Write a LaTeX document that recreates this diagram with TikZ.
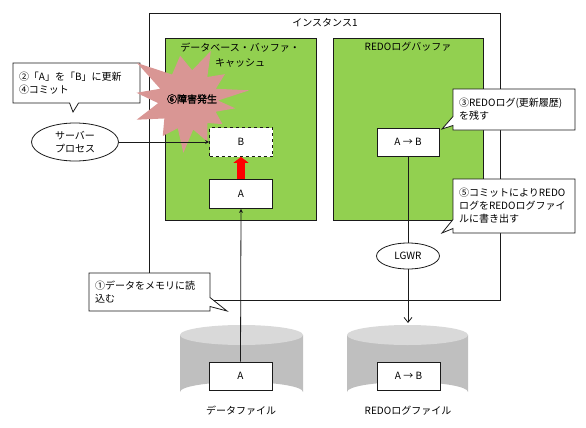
\documentclass[tikz,border=0pt]{standalone}
\usepackage{fontspec}
\setmainfont{Noto Sans CJK JP}
\newfontfamily\burstfont{Noto Sans CJK JP}[FakeBold=2]
\usetikzlibrary{shapes.geometric, shapes.callouts, arrows.meta, calc}
\definecolor{oragreen}{HTML}{92D050}
\definecolor{orapink}{HTML}{D99694}
\definecolor{oradiskbody}{HTML}{BFBFBF}
\definecolor{oradisktop}{HTML}{D9D9D9}
\definecolor{oraline}{HTML}{1A1A1A}

\begin{document}
\begin{tikzpicture}[
  x=1pt, y=-1pt,
  every node/.style={font=\fontsize{10}{13}\selectfont, text=black},
  frame/.style={draw=oraline, line width=0.8pt, inner sep=0pt},
  buffer/.style={frame, fill=oragreen, minimum width=151pt, minimum height=182pt},
  blk/.style={frame, fill=white, minimum width=63pt, minimum height=29pt},
  proc/.style={ellipse, frame, fill=white, align=center},
  note/.style={rectangle callout, frame, fill=white, align=left, inner xsep=6pt, inner ysep=0pt, callout pointer width=9pt},
  arr/.style={-{Stealth[length=4pt,width=4pt]}, line width=0.8pt, oraline},
  link/.style={line width=0.8pt, oraline}
]
\useasboundingbox (0,0) rectangle (586,428);

% instance and buffers
\node[frame, minimum width=351pt, minimum height=287pt] (inst) at (324.5,156.5) {};
\node (insttitle) at (325,23) {インスタンス1};
\node[buffer] (dbbuf) at (240.5,129) {};
\node[buffer, minimum width=150pt] (redobuf) at (408,129) {};

\node[blk, dashed] (memB) at (241,142) {B};
\node[blk] (memA) at (241,194) {A};
\node[blk, minimum width=62pt, minimum height=28pt] (redoAB) at (408,142) {A → B};

\node[proc, minimum width=87pt, minimum height=38pt] (server) at (75,142) {サーバー\\プロセス};
\node[proc, minimum width=63pt, minimum height=26pt] (lgwr) at (408,256) {LGWR};

% files
\fill[oradiskbody] (180,335) -- (180,392) arc[start angle=180, end angle=360, x radius=61.5, y radius=10] -- (303,335) -- cycle;
\fill[oradisktop] (241.5,335) ellipse[x radius=61.5, y radius=10];
\fill[oradiskbody] (347,335) -- (347,392) arc[start angle=180, end angle=360, x radius=60.5, y radius=10] -- (468,335) -- cycle;
\fill[oradisktop] (407.5,335) ellipse[x radius=60.5, y radius=10];
\coordinate (rftop) at (408,323);

\node[blk, minimum height=28pt] (dfA) at (240.5,376) {A};
\node[blk, minimum height=28pt] (rfAB) at (408.5,376) {A → B};
\node (dflbl) at (241,411) {データファイル};
\node (rflbl) at (408,411) {REDOログファイル};

% flows
\draw[-{Triangle[length=6pt,width=15pt]}, line width=8pt, red] (memA.north) -- (memB.south);
\draw[arr] (dfA.north) -- (memA.south);
\draw[link] (redoAB.south) -- (lgwr.north);
\draw[link, -{Straight Barb[length=5pt,width=8pt]}] (lgwr.south) -- (rftop);

% notes
\node[note, text width=115pt, minimum height=40pt, callout absolute pointer={(73,112)}] (note24) at (76.5,83) {②「A」を「B」に更新\\④コミット};
\node[note, text width=110pt, minimum height=41pt, callout absolute pointer={(442,129)}] (note3) at (514,109.5) {③REDOログ(更新履歴)\\を残す};
\node[note, text width=110pt, minimum height=54pt, callout absolute pointer={(442,233)}] (note5) at (514,206) {⑤コミットによりREDO\\ログをREDOログファイ\\ルに書き出す};
\node[note, text width=109pt, minimum height=38pt, callout absolute pointer={(227,311)}] (note1) at (149.5,292) {①データをメモリに読\\込む};

% failure burst
\fill[orapink, shift={(188,100)}]
  (-9:62) -- (-22:30) -- (-35:45) -- (-50:30) -- (-65:54) -- (-82:30)
  -- (-100:45) -- (-122:30) -- (-144:63) -- (-158:30) -- (-172:52) -- (-186:30)
  -- (-201:55) -- (-218:30) -- (-235:44) -- (-250:30) -- (-265:53) -- (-280:30)
  -- (-295:46) -- (-310:30) -- (-325:42) -- (-337:30) -- (-350:48) -- (-359:30) -- cycle;
\node (burst) at (192,99) {\burstfont ⑥障害発生};

\node[align=center, font=\fontsize{10}{15}\selectfont] (dbtitle) at (240,55) {データベース・バッファ・\\キャッシュ};
\node (redotitle) at (408,47) {REDOログバッファ};

\draw[arr] (server.east) -- (memB.west);
\end{tikzpicture}
\end{document}
